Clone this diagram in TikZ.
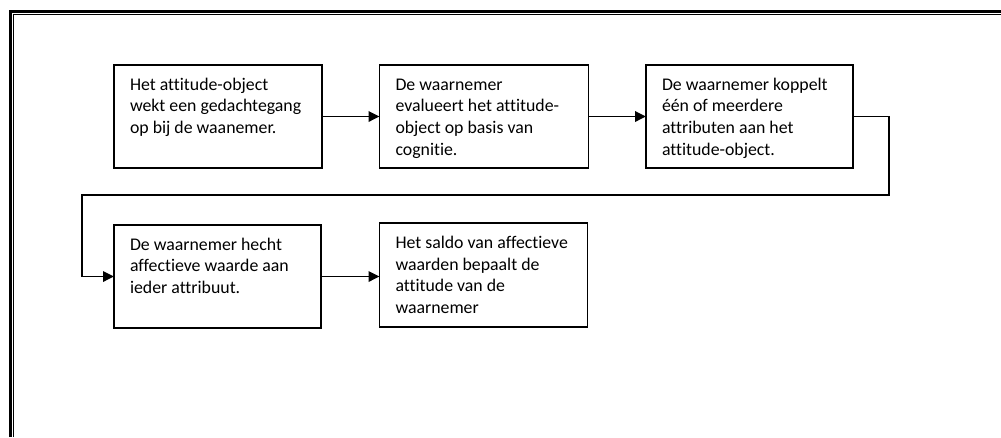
\documentclass[tikz,border=0pt]{standalone}
\usepackage{fontspec}
\setmainfont{Carlito}[Ligatures={NoCommon,NoRequired,NoContextual}]
\usetikzlibrary{arrows.meta}
\tikzset{
  box/.style={draw, line width=1.9pt, inner xsep=16pt, inner ysep=0pt, outer sep=0pt,
    anchor=north west, font=\fontsize{17.8}{21.7}\selectfont},
  conn/.style={line width=1.8pt, -{Triangle[length=11pt,width=10.5pt]}},
  frame/.style={line width=3pt},
  thinframe/.style={line width=0.9pt},
}
\newcommand{\boxtext}[3]{\parbox[t][#2][t]{#1}{\raggedright\rule{0pt}{25pt}#3}}
\begin{document}
\begin{tikzpicture}[x=1pt,y=-1pt]
\useasboundingbox (0,0) rectangle (1001,437);
% outer frame
\coordinate (fa) at (10.5,437);
\coordinate (fb) at (10.5,11.5);
\coordinate (fc) at (1001,11.5);
\coordinate (ga) at (13.5,437);
\coordinate (gb) at (13.5,14.5);
\coordinate (gc) at (1001,14.5);
\draw[frame] (fa) -- (fb) -- (fc);
\draw[thinframe] (ga) -- (gb) -- (gc);
% boxes
\node[box] (b1) at (114,65) {\boxtext{176pt}{103pt}{Het attitude-object\\wekt een gedachtegang\\op bij de waanemer.}};
\node[box] (b2) at (379.5,65) {\boxtext{177pt}{103pt}{De waarnemer\\evalueert het attitude-\\object op basis van\\cognitie.}};
\node[box] (b3) at (646,65) {\boxtext{175pt}{103pt}{De waarnemer koppelt\\één of meerdere\\attributen aan het\\attitude-object.}};
\node[box] (b4) at (114,225) {\boxtext{175pt}{103pt}{De waarnemer hecht\\affectieve waarde aan\\ieder attribuut.}};
\node[box] (b5) at (379.5,223.3) {\boxtext{176pt}{103.4pt}{Het saldo van affectieve\\waarden bepaalt de\\attitude van de\\waarnemer}};
% connectors
\coordinate (c2) at (888.7,195);
\coordinate (c3) at (81.7,195);
\draw[conn] (b1.east) -- (b2.west);
\draw[conn] (b2.east) -- (b3.west);
\draw[conn] (b3.east) -| (c2) -- (c3) |- (b4.west);
\draw[conn] (b4.east) -- (b4.east -| b5.west);
\end{tikzpicture}
\end{document}
